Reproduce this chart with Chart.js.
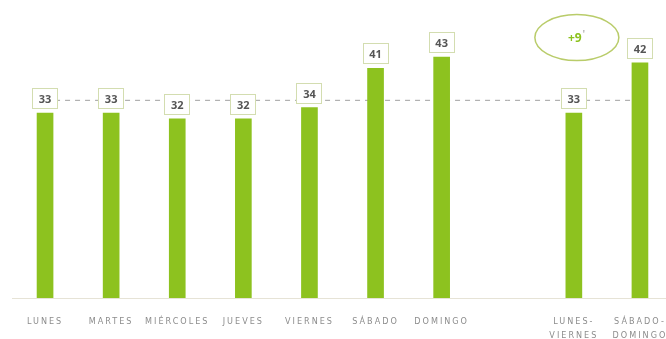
<!DOCTYPE html>
<html>
<head>
<meta charset="utf-8">
<script src="https://cdn.jsdelivr.net/npm/chart.js@4/dist/chart.umd.min.js"></script>
<style>
  html, body { margin: 0; padding: 0; background: #fff; overflow: hidden; }
  #wrap { width: 673px; height: 339px; position: relative; }
</style>
</head>
<body>
<div id="wrap"><canvas id="minutos-chart"></canvas></div>
<script>
// Minutos por día de la semana
const dias = ['LUNES', 'MARTES', 'MIÉRCOLES', 'JUEVES', 'VIERNES', 'SÁBADO', 'DOMINGO', '',
  ['LUNES-', 'VIERNES'], ['SÁBADO-', 'DOMINGO']];
const minutos = [33, 33, 32, 32, 34, 41, 43, null, 33, 42];
// línea de referencia punteada que une las cajas
const referencia = [35.3, 35.3, 35.3, 35.3, 35.3, 35.3, 35.3, 35.3, 35.3, 35.3];
const diferencia = '+9';
const posDiferencia = { indice: 8, valor: 46.5 };

const verde = '#8dc21f';

// cajas con el valor encima de cada barra + la elipse de diferencia
const etiquetas = {
  id: 'etiquetas',
  beforeDraw(chart) {
    chart.ctx.letterSpacing = '2px';
  },
  beforeDatasetsDraw(chart) {
    chart.ctx.letterSpacing = '0px';
  },
  afterDatasetsDraw(chart) {
    const ctx = chart.ctx;
    const meta = chart.getDatasetMeta(0);
    ctx.save();
    meta.data.forEach((bar, i) => {
      const v = minutos[i];
      if (v == null) return;
      const w = 26, h = 21;
      const x = Math.round(bar.x - w / 2);
      const y = Math.round(bar.y - 4 - h);
      ctx.fillStyle = '#fff';
      ctx.fillRect(x, y, w, h);
      ctx.strokeStyle = '#d3ddb0';
      ctx.lineWidth = 1;
      ctx.strokeRect(x + 0.5, y + 0.5, w - 1, h - 1);
      ctx.fillStyle = '#555';
      ctx.font = 'bold 11px "Open Sans"';
      ctx.textAlign = 'center';
      ctx.textBaseline = 'middle';
      ctx.fillText(String(v), bar.x, y + h / 2 + 1);
    });

    // elipse con la diferencia entre fin de semana y laborables
    const cx = chart.scales.x.getPixelForValue(posDiferencia.indice) + 3;
    const cy = chart.scales.y.getPixelForValue(posDiferencia.valor);
    ctx.beginPath();
    ctx.ellipse(cx, cy, 42, 23, 0, 0, Math.PI * 2);
    ctx.strokeStyle = '#b9cc6a';
    ctx.lineWidth = 1.5;
    ctx.stroke();
    ctx.font = 'bold 12px "Open Sans"';
    ctx.textAlign = 'center';
    ctx.textBaseline = 'middle';
    ctx.fillStyle = verde;
    ctx.fillText(diferencia, cx - 2, cy + 1);
    ctx.fillStyle = '#888';
    ctx.font = '10px "Open Sans"';
    ctx.fillText("'", cx + 7, cy - 2);
    ctx.restore();
  }
};

const ctx = document.getElementById('minutos-chart').getContext('2d');
new Chart(ctx, {
  type: 'bar',
  data: {
    labels: dias,
    datasets: [{
      data: minutos,
      backgroundColor: verde,
      barThickness: 16,
      order: 1
    }, {
      type: 'line',
      data: referencia,
      borderColor: '#a0a0a0',
      borderWidth: 1,
      borderDash: [5, 5],
      pointRadius: 0,
      fill: false,
      order: 2
    }]
  },
  options: {
    responsive: true,
    maintainAspectRatio: false,
    animation: false,
    layout: { padding: { top: 18, left: 12, right: 0, bottom: 0 } },
    plugins: {
      legend: { display: false },
      tooltip: { enabled: false }
    },
    scales: {
      x: {
        grid: { display: false, drawTicks: false },
        border: { color: '#e6e3d6', width: 1 },
        afterFit(scale) {
          scale.height = 41;
          scale.paddingLeft = 0;
          scale.paddingRight = 0;
        },
        ticks: {
          color: '#8c8c8c',
          padding: 17,
          autoSkip: false,
          maxRotation: 0,
          font: { family: '"DejaVu Sans Condensed"', size: 9, lineHeight: 1.55 }
        }
      },
      y: {
        display: false,
        min: 0,
        max: 50
      }
    }
  },
  plugins: [etiquetas]
});
</script>
</body>
</html>
